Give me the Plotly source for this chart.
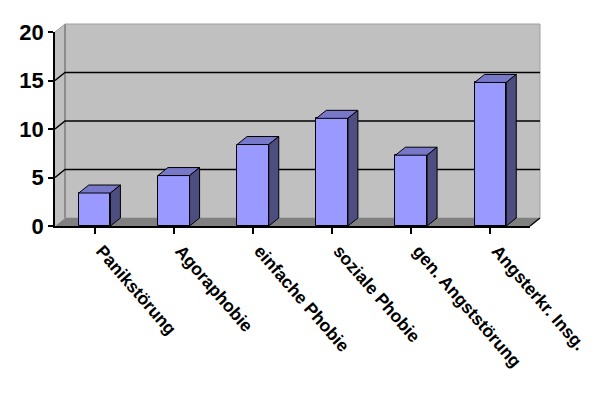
import plotly.graph_objects as go

categories = ["Panikstörung", "Agoraphobie", "einfache Phobie", "soziale Phobie",
              "gen. Angststörung", "Angsterkr. Insg."]
values = [3.4, 5.2, 8.4, 11.1, 7.3, 14.8]
y_ticks = [0, 5, 10, 15, 20]
grid_values = [5, 10, 15]

# geometry / style constants (page body adds 8px offset)
W, H = 600, 397
PW, PH = 475, 194
ML, MT = 47, 24
MR, MB = W - ML - PW, H - MT - PH
DEPTH_PX_X, DEPTH_PX_Y = 10, 8
YMAX = 20
BAR_W = 0.4
dxp, dyp = DEPTH_PX_X / PW, DEPTH_PX_Y / PH
x_unit = PW / len(categories)
y_unit = PH / YMAX
dx, dy = DEPTH_PX_X / x_unit, DEPTH_PX_Y / y_unit

FRONT, TOP, SIDE = "#9999ff", "#7878c8", "#4d4d80"
FONT = "Liberation Sans, Arial, sans-serif"

fig = go.Figure()

xs = list(range(len(categories)))
fig.add_trace(go.Bar(x=xs, y=values, width=BAR_W,
                     marker=dict(color=FRONT, line=dict(color="black", width=1)),
                     hoverinfo="skip", showlegend=False))

for i, v in enumerate(values):
    l, r = i - BAR_W / 2, i + BAR_W / 2
    fig.add_trace(go.Scatter(x=[l, r, r + dx, l + dx, l], y=[v, v, v + dy, v + dy, v],
                             fill="toself", fillcolor=TOP, mode="lines",
                             line=dict(color="black", width=1), hoverinfo="skip", showlegend=False))
    fig.add_trace(go.Scatter(x=[r, r + dx, r + dx, r, r], y=[0, dy, v + dy, v, 0],
                             fill="toself", fillcolor=SIDE, mode="lines",
                             line=dict(color="black", width=1), hoverinfo="skip", showlegend=False))

shapes = []
shapes.append(dict(type="path", xref="paper", yref="paper", layer="below",
                   path=f"M 0,0 L {dxp},{dyp} L {dxp},{1+dyp} L 0,1 Z",
                   fillcolor="#c0c0c0", line=dict(width=0)))
shapes.append(dict(type="rect", xref="paper", yref="paper", layer="below",
                   x0=dxp, x1=1 + dxp, y0=dyp, y1=1 + dyp,
                   fillcolor="#c0c0c0", line=dict(color="#a0a0a0", width=1)))
shapes.append(dict(type="line", xref="paper", yref="paper", layer="below",
                   x0=dxp, x1=dxp, y0=dyp, y1=1 + dyp, line=dict(color="#808080", width=1.5)))
shapes.append(dict(type="line", xref="paper", yref="paper", layer="below",
                   x0=0, x1=dxp, y0=1, y1=1 + dyp, line=dict(color="#a0a0a0", width=1)))
shapes.append(dict(type="path", xref="paper", yref="paper", layer="below",
                   path=f"M 0,0 L 1,0 L {1+dxp},{dyp} L {dxp},{dyp} Z",
                   fillcolor="#808080", line=dict(width=0)))
shapes.append(dict(type="line", xref="paper", yref="paper", layer="below",
                   x0=1, x1=1 + dxp, y0=0, y1=dyp, line=dict(color="black", width=1.5)))
for g in grid_values:
    gy = g / YMAX
    shapes.append(dict(type="path", xref="paper", yref="paper", layer="below",
                       path=f"M 0,{gy} L {dxp},{gy+dyp} L {1+dxp},{gy+dyp}",
                       line=dict(color="black", width=1.5)))

fig.update_layout(
    width=W, height=H,
    margin=dict(l=ML, r=MR, t=MT, b=MB, autoexpand=False),
    paper_bgcolor="white", plot_bgcolor="rgba(0,0,0,0)",
    shapes=shapes, bargap=0,
    font=dict(family=FONT, color="black"),
)
fig.update_xaxes(range=[-0.5, len(categories) - 0.5], tickvals=xs, ticktext=categories,
                 tickson="boundaries", ticks="outside", ticklen=6, tickcolor="black", tickwidth=1.5,
                 showline=True, linecolor="black", linewidth=1.5, showgrid=False, zeroline=False,
                 tickangle=49, ticklabelshift=7,
                 tickfont=dict(size=17.5, family=FONT, weight="bold"), fixedrange=True)
fig.update_yaxes(range=[0, YMAX], tickvals=y_ticks, ticks="outside", ticklen=5, tickcolor="black",
                 tickwidth=1.5, showline=True, linecolor="black", linewidth=1.5, showgrid=False,
                 zeroline=False, tickfont=dict(size=22, family=FONT, weight="bold"), fixedrange=True)

fig.write_html("out.html")
